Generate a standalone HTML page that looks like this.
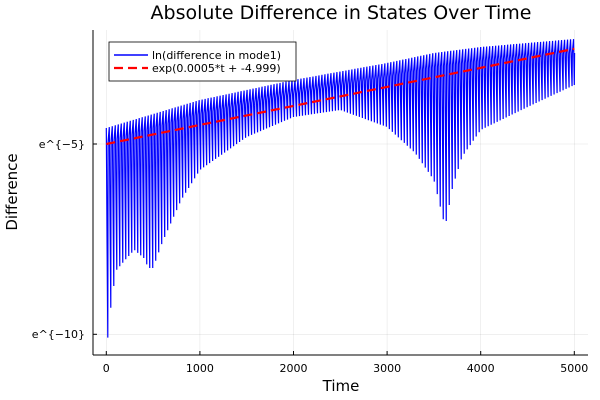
<!DOCTYPE html>
<html><head><meta charset="utf-8"><style>
body{margin:0;background:#fff;}
svg{display:block;font-family:"DejaVu Sans","Liberation Sans",sans-serif;}
</style></head><body>
<svg id="s" width="600" height="400" xmlns="http://www.w3.org/2000/svg">
<rect width="600" height="400" fill="#fff"/>
<g stroke="#000" stroke-opacity="0.1" stroke-width="0.6">
<line x1="106.3" y1="30" x2="106.3" y2="355"/><line x1="199.9" y1="30" x2="199.9" y2="355"/>
<line x1="293.5" y1="30" x2="293.5" y2="355"/><line x1="387.1" y1="30" x2="387.1" y2="355"/>
<line x1="480.7" y1="30" x2="480.7" y2="355"/><line x1="574.3" y1="30" x2="574.3" y2="355"/>
<line x1="93" y1="144" x2="588" y2="144"/><line x1="93" y1="334.3" x2="588" y2="334.3"/>
</g>
<path id="blue" fill="none" stroke="#0000ff" stroke-width="1.2"/>
<line x1="106.3" y1="144" x2="574.3" y2="48.8" stroke="#ff0000" stroke-width="2.2" stroke-dasharray="9,5"/>
<g stroke="#000" stroke-width="1">
<line x1="93" y1="355" x2="588" y2="355"/><line x1="93" y1="30" x2="93" y2="355"/>
<line x1="106.3" y1="355" x2="106.3" y2="351"/><line x1="199.9" y1="355" x2="199.9" y2="351"/>
<line x1="293.5" y1="355" x2="293.5" y2="351"/><line x1="387.1" y1="355" x2="387.1" y2="351"/>
<line x1="480.7" y1="355" x2="480.7" y2="351"/><line x1="574.3" y1="355" x2="574.3" y2="351"/>
<line x1="93" y1="144" x2="97" y2="144"/><line x1="93" y1="334.3" x2="97" y2="334.3"/>
</g>
<g font-size="11" fill="#000" text-anchor="middle">
<text x="106.3" y="372">0</text><text x="199.9" y="372">1000</text><text x="293.5" y="372">2000</text>
<text x="387.1" y="372">3000</text><text x="480.7" y="372">4000</text><text x="574.3" y="372">5000</text>
</g>
<g font-size="11" fill="#000" text-anchor="end">
<text x="85" y="148">e^{−5}</text><text x="85" y="338">e^{−10}</text>
</g>
<text x="341" y="19" font-size="19" text-anchor="middle">Absolute Difference in States Over Time</text>
<text x="341" y="391" font-size="15" text-anchor="middle">Time</text>
<text transform="translate(17,192) rotate(-90)" font-size="15" text-anchor="middle">Difference</text>
<rect x="109" y="42" width="187" height="39" fill="#fff" stroke="#000" stroke-width="0.8"/>
<line x1="114" y1="55" x2="148" y2="55" stroke="#0000ff" stroke-width="1.5"/>
<line x1="114" y1="68" x2="148" y2="68" stroke="#ff0000" stroke-width="2.2" stroke-dasharray="9,5"/>
<g font-size="11" fill="#000"><text x="152" y="59">ln(difference in mode1)</text><text x="152" y="72">exp(0.0005*t + -4.999)</text></g>
</svg>
<script>
function interp(pts,t){for(let i=0;i<pts.length-1;i++){if(t<=pts[i+1][0]){const a=pts[i],b=pts[i+1];return a[1]+(b[1]-a[1])*(t-a[0])/(b[0]-a[0]);}}return pts[pts.length-1][1];}
const up=[[0,128],[500,114],[1000,100],[2000,80],[3000,63],[3500,53],[4000,47],[5000,39]];
const lo=[[0,300],[20,347],[50,305],[80,286],[110,270],[200,260],[300,250],[400,258],[450,268],[500,268],[600,242],[800,200],[1000,170],[1500,137],[2000,117],[2500,110],[3000,127],[3300,153],[3500,180],[3620,227],[3700,187],[3800,157],[4000,130],[4500,107],[5000,85]];
const X=t=>106.3+t*0.0936;
let d="",P=32;
for(let t=0;t<=5000;t+=P){
 const tl=Math.min(t+P/2,5000);
 d+=(t==0?"M":"L")+X(t).toFixed(2)+","+interp(up,t).toFixed(1)+"L"+X(tl).toFixed(2)+","+interp(lo,tl).toFixed(1);
 // band: extra mid points to thicken the dense upper band
 d+="L"+X(tl+3).toFixed(2)+","+(interp(up,tl)+14).toFixed(1);
}
document.getElementById("blue").setAttribute("d",d);
</script>
</body></html>
